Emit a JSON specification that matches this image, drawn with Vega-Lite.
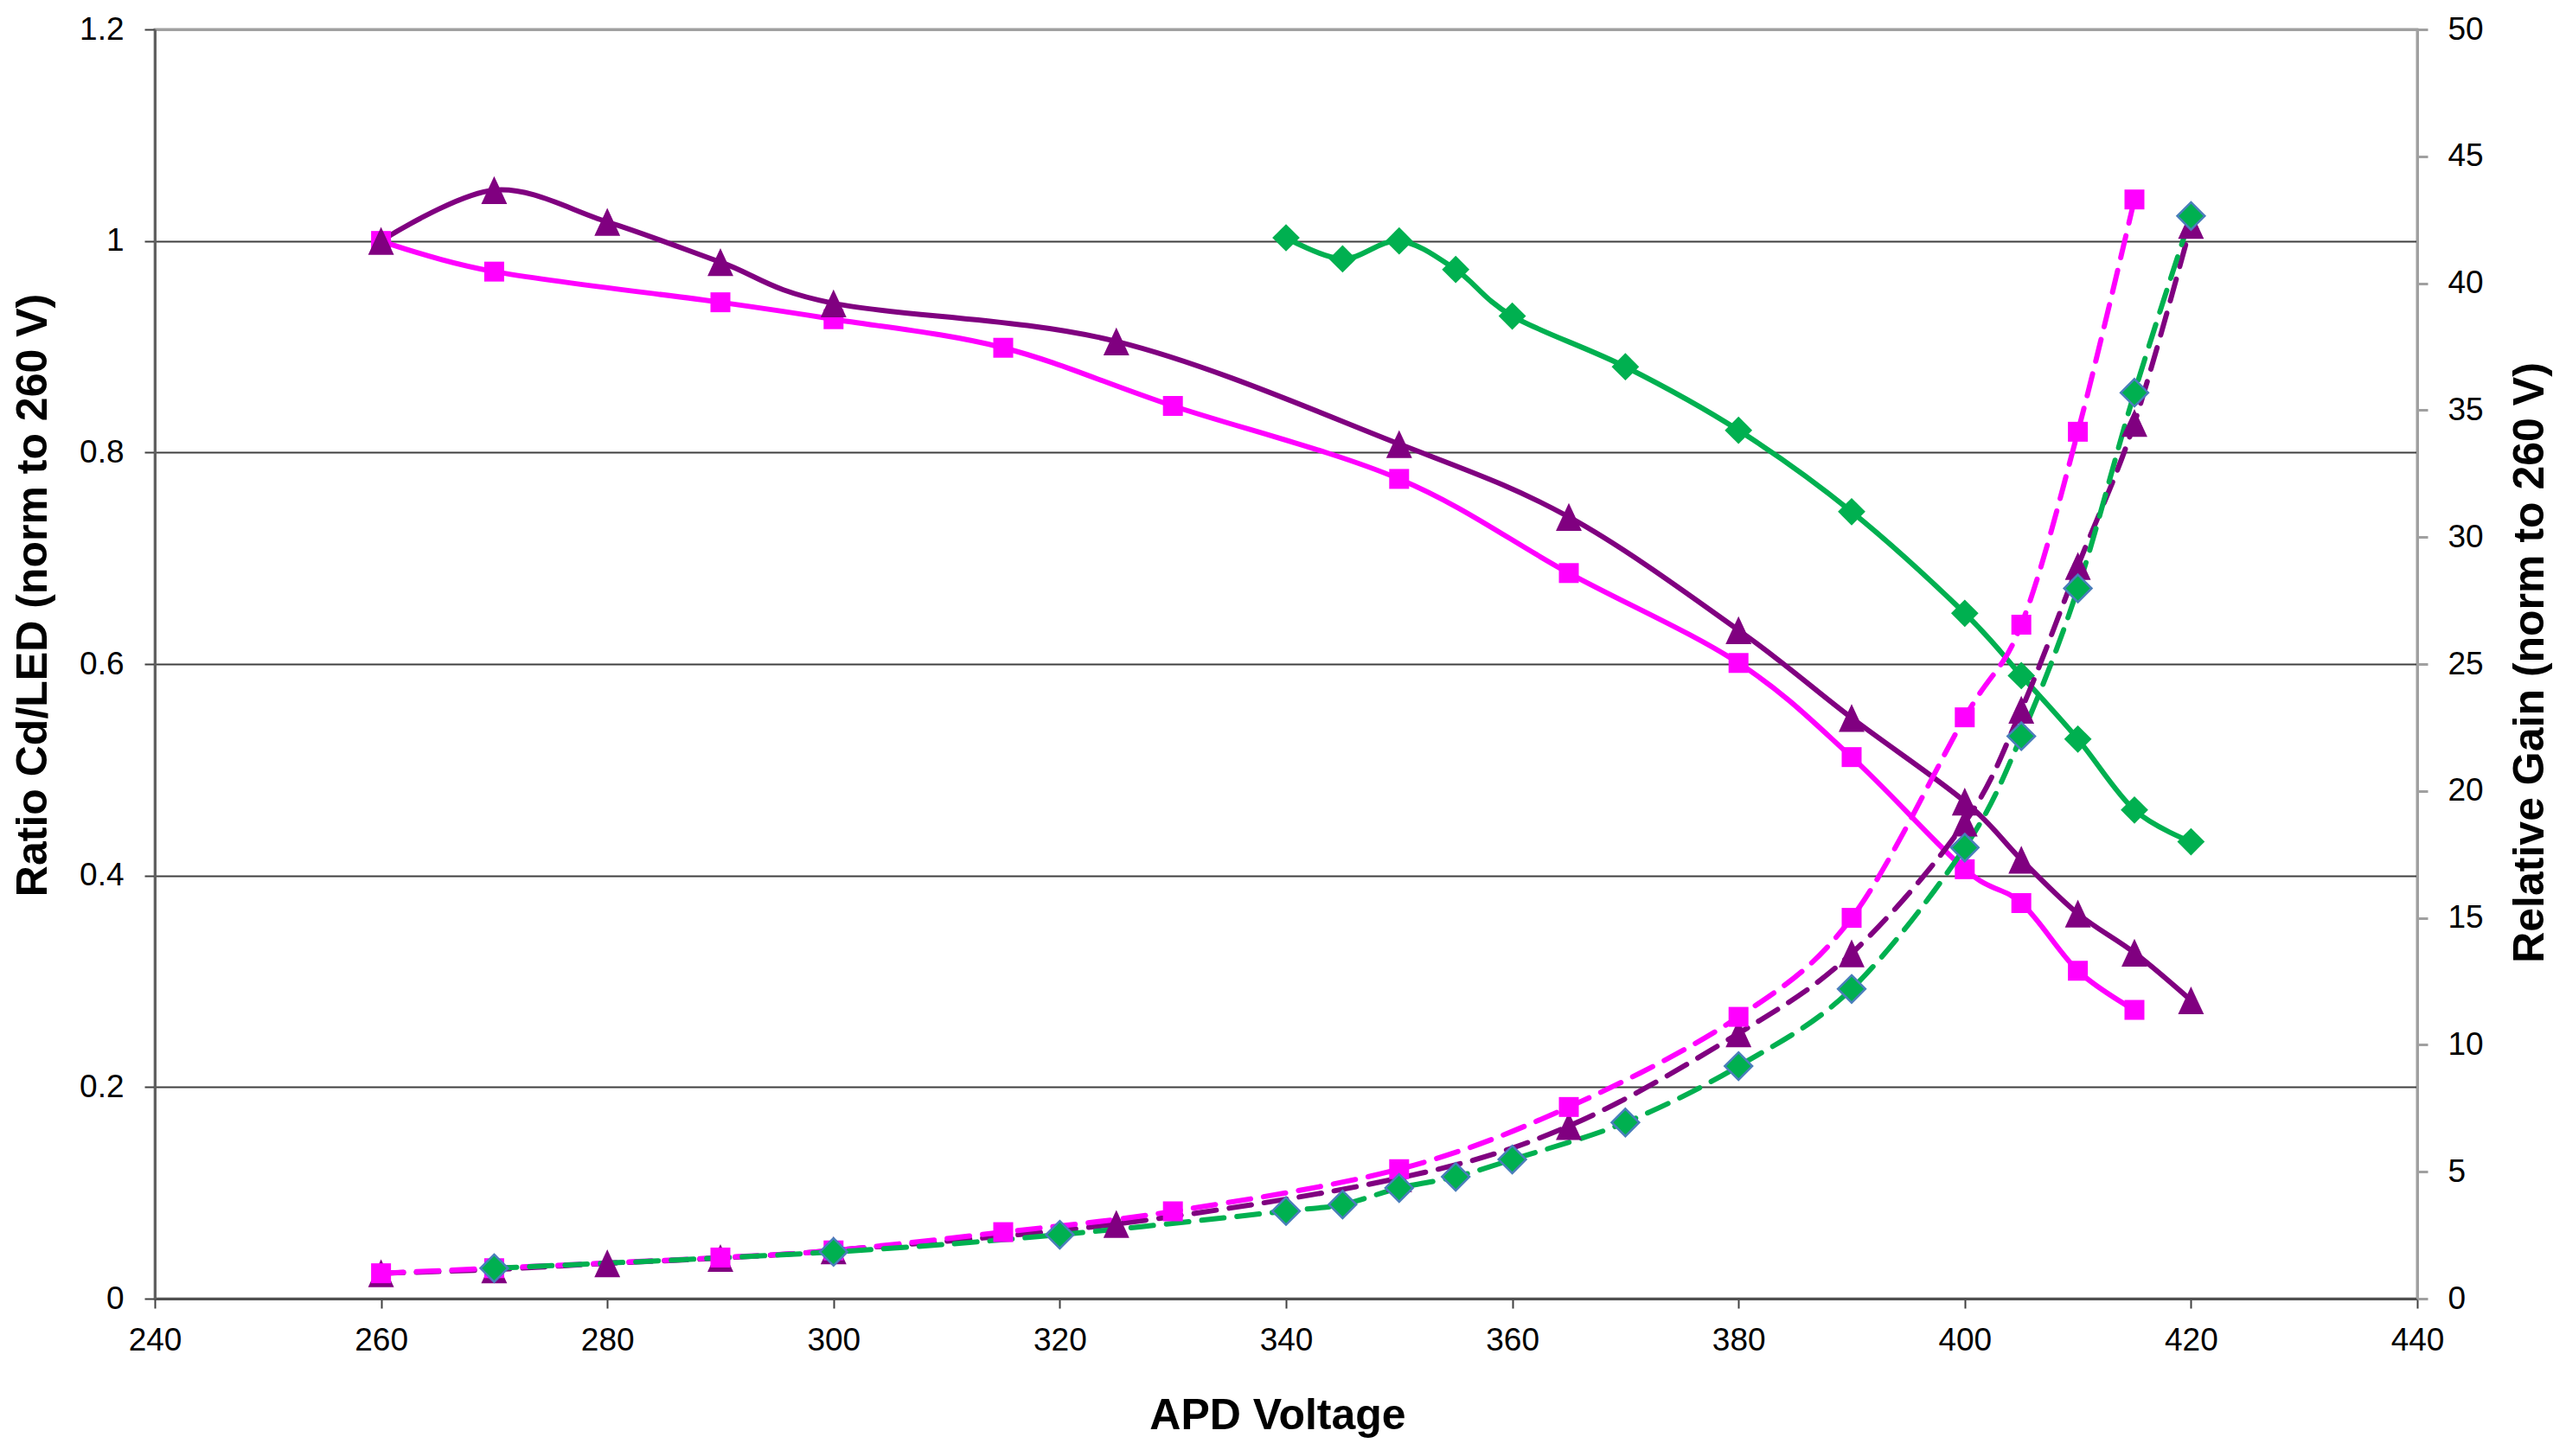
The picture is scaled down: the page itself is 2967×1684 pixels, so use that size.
{
  "$schema": "https://vega.github.io/schema/vega-lite/v6.json",
  "width": 2616,
  "height": 1468,
  "autosize": "none",
  "padding": {"left": 179, "top": 34, "right": 172, "bottom": 182},
  "background": "white",
  "config": {
    "font": "Liberation Sans",
    "view": {"stroke": "#A0A0A0", "strokeWidth": 3},
    "axis": {
      "labelFont": "Liberation Sans",
      "titleFont": "Liberation Sans",
      "labelFontSize": 37,
      "labelColor": "black",
      "titleFontSize": 50,
      "titleFontWeight": "bold",
      "titleColor": "black",
      "labelFlush": false,
      "labelOverlap": false
    }
  },
  "datasets": {
    "ratio": [
      {"s": "mag", "v": 260, "r": 1.0},
      {"s": "mag", "v": 270, "r": 0.971},
      {"s": "mag", "v": 290, "r": 0.942},
      {"s": "mag", "v": 300, "r": 0.926},
      {"s": "mag", "v": 315, "r": 0.899},
      {"s": "mag", "v": 330, "r": 0.844},
      {"s": "mag", "v": 350, "r": 0.775},
      {"s": "mag", "v": 365, "r": 0.686},
      {"s": "mag", "v": 380, "r": 0.601},
      {"s": "mag", "v": 390, "r": 0.512},
      {"s": "mag", "v": 400, "r": 0.406},
      {"s": "mag", "v": 405, "r": 0.374},
      {"s": "mag", "v": 410, "r": 0.31},
      {"s": "mag", "v": 415, "r": 0.273},
      {"s": "pur", "v": 260, "r": 1.0},
      {"s": "pur", "v": 270, "r": 1.048},
      {"s": "pur", "v": 280, "r": 1.018},
      {"s": "pur", "v": 290, "r": 0.98},
      {"s": "pur", "v": 300, "r": 0.941},
      {"s": "pur", "v": 325, "r": 0.905},
      {"s": "pur", "v": 350, "r": 0.808},
      {"s": "pur", "v": 365, "r": 0.739},
      {"s": "pur", "v": 380, "r": 0.632},
      {"s": "pur", "v": 390, "r": 0.549},
      {"s": "pur", "v": 400, "r": 0.47},
      {"s": "pur", "v": 405, "r": 0.415},
      {"s": "pur", "v": 410, "r": 0.364},
      {"s": "pur", "v": 415, "r": 0.327},
      {"s": "pur", "v": 420, "r": 0.282},
      {"s": "grn", "v": 340, "r": 1.003},
      {"s": "grn", "v": 345, "r": 0.983},
      {"s": "grn", "v": 350, "r": 1.0},
      {"s": "grn", "v": 355, "r": 0.973},
      {"s": "grn", "v": 360, "r": 0.929},
      {"s": "grn", "v": 370, "r": 0.881},
      {"s": "grn", "v": 380, "r": 0.821},
      {"s": "grn", "v": 390, "r": 0.744},
      {"s": "grn", "v": 400, "r": 0.648},
      {"s": "grn", "v": 405, "r": 0.589},
      {"s": "grn", "v": 410, "r": 0.529},
      {"s": "grn", "v": 415, "r": 0.462},
      {"s": "grn", "v": 420, "r": 0.432}
    ],
    "gain": [
      {"s": "pur", "v": 260, "g": 1.0},
      {"s": "pur", "v": 270, "g": 1.15},
      {"s": "pur", "v": 280, "g": 1.39},
      {"s": "pur", "v": 290, "g": 1.6},
      {"s": "pur", "v": 300, "g": 1.9},
      {"s": "pur", "v": 325, "g": 2.94},
      {"s": "pur", "v": 350, "g": 4.75},
      {"s": "pur", "v": 365, "g": 6.8},
      {"s": "pur", "v": 380, "g": 10.45},
      {"s": "pur", "v": 390, "g": 13.6},
      {"s": "pur", "v": 400, "g": 18.75},
      {"s": "pur", "v": 405, "g": 23.2},
      {"s": "pur", "v": 410, "g": 28.86},
      {"s": "pur", "v": 415, "g": 34.5},
      {"s": "pur", "v": 420, "g": 42.3},
      {"s": "mag", "v": 260, "g": 1.0},
      {"s": "mag", "v": 270, "g": 1.2},
      {"s": "mag", "v": 290, "g": 1.62},
      {"s": "mag", "v": 300, "g": 1.9},
      {"s": "mag", "v": 315, "g": 2.62},
      {"s": "mag", "v": 330, "g": 3.44},
      {"s": "mag", "v": 350, "g": 5.1},
      {"s": "mag", "v": 365, "g": 7.55},
      {"s": "mag", "v": 380, "g": 11.1},
      {"s": "mag", "v": 390, "g": 15.0},
      {"s": "mag", "v": 400, "g": 22.9},
      {"s": "mag", "v": 405, "g": 26.55},
      {"s": "mag", "v": 410, "g": 34.15},
      {"s": "mag", "v": 415, "g": 43.3},
      {"s": "grn", "v": 270, "g": 1.2},
      {"s": "grn", "v": 300, "g": 1.84},
      {"s": "grn", "v": 320, "g": 2.52},
      {"s": "grn", "v": 340, "g": 3.45},
      {"s": "grn", "v": 345, "g": 3.71},
      {"s": "grn", "v": 350, "g": 4.36},
      {"s": "grn", "v": 355, "g": 4.8},
      {"s": "grn", "v": 360, "g": 5.48},
      {"s": "grn", "v": 370, "g": 6.94},
      {"s": "grn", "v": 380, "g": 9.16},
      {"s": "grn", "v": 390, "g": 12.2},
      {"s": "grn", "v": 400, "g": 17.77},
      {"s": "grn", "v": 405, "g": 22.16},
      {"s": "grn", "v": 410, "g": 27.98},
      {"s": "grn", "v": 415, "g": 35.69},
      {"s": "grn", "v": 420, "g": 42.65}
    ]
  },
  "encoding": {
    "x": {
      "field": "v",
      "type": "quantitative",
      "scale": {"domain": [240, 440], "nice": false, "zero": false},
      "axis": {
        "title": "APD Voltage",
        "values": [240, 260, 280, 300, 320, 340, 360, 380, 400, 420, 440],
        "grid": false,
        "tickSize": 11,
        "tickWidth": 2,
        "tickColor": "#404040",
        "domainColor": "#505050",
        "domainWidth": 3,
        "labelPadding": 19,
        "titleX": 1298,
        "titleY": 135,
        "titleAlign": "center",
        "titleBaseline": "middle"
      }
    },
    "color": {
      "field": "s",
      "type": "nominal",
      "scale": {"domain": ["mag", "pur", "grn"], "range": ["#FF00FF", "#800080", "#00B050"]},
      "legend": null
    }
  },
  "layer": [
    {
      "data": {"name": "ratio"},
      "encoding": {
        "y": {
          "field": "r",
          "type": "quantitative",
          "scale": {"domain": [0, 1.2], "nice": false},
          "axis": {
            "orient": "left",
            "title": "Ratio Cd/LED (norm to 260 V)",
            "values": [0, 0.2, 0.4, 0.6, 0.8, 1, 1.2],
            "format": "~g",
            "grid": true,
            "gridColor": {"condition": {"test": "datum.value >= 1.19", "value": "#A0A0A0"}, "value": "#404040"},
            "gridWidth": {"condition": {"test": "datum.value >= 1.19", "value": 3}, "value": 2},
            "tickSize": 12,
            "tickWidth": 2,
            "tickColor": "#404040",
            "domainColor": "#606060",
            "domainWidth": 3,
            "labelPadding": 24,
            "titleX": -141,
            "titleY": 654,
            "titleAngle": 270,
            "titleAlign": "center",
            "titleBaseline": "middle"
          }
        }
      },
      "layer": [
        {
          "mark": {"type": "line", "interpolate": "cardinal", "strokeWidth": 6}
        },
        {
          "mark": {"type": "point", "filled": true, "opacity": 1, "size": 529},
          "encoding": {
            "shape": {
              "field": "s",
              "type": "nominal",
              "scale": {"domain": ["mag", "pur", "grn"], "range": ["square", "M0,-1.4L1.3,1.4L-1.3,1.4Z", "M0,-1.38L1.38,0L0,1.38L-1.38,0Z"]},
              "legend": null
            }
          }
        }
      ]
    },
    {
      "data": {"name": "gain"},
      "encoding": {
        "y": {
          "field": "g",
          "type": "quantitative",
          "scale": {"domain": [0, 50], "nice": false},
          "axis": {
            "orient": "right",
            "title": "Relative Gain (norm to 260 V)",
            "values": [0, 5, 10, 15, 20, 25, 30, 35, 40, 45, 50],
            "grid": false,
            "tickSize": 12,
            "tickWidth": 3,
            "tickColor": "#A0A0A0",
            "domainColor": "#A0A0A0",
            "domainWidth": 3,
            "labelPadding": 23,
            "titleX": 130,
            "titleY": 732,
            "titleAngle": 270,
            "titleAlign": "center",
            "titleBaseline": "middle"
          }
        }
      },
      "layer": [
        {
          "mark": {"type": "line", "interpolate": "cardinal", "strokeWidth": 6, "strokeDash": [26, 15], "strokeCap": "round"}
        },
        {
          "mark": {"type": "point", "filled": true, "opacity": 1, "size": 529},
          "encoding": {
            "shape": {
              "field": "s",
              "type": "nominal",
              "scale": {"domain": ["mag", "pur", "grn"], "range": ["square", "M0,-1.4L1.3,1.4L-1.3,1.4Z", "M0,-1.38L1.38,0L0,1.38L-1.38,0Z"]},
              "legend": null
            },
            "stroke": {"value": "#4A7EBB"},
            "strokeWidth": {"condition": {"test": "datum.s === 'grn'", "value": 2.5}, "value": 0}
          }
        }
      ]
    }
  ],
  "resolve": {"scale": {"y": "independent"}}
}
